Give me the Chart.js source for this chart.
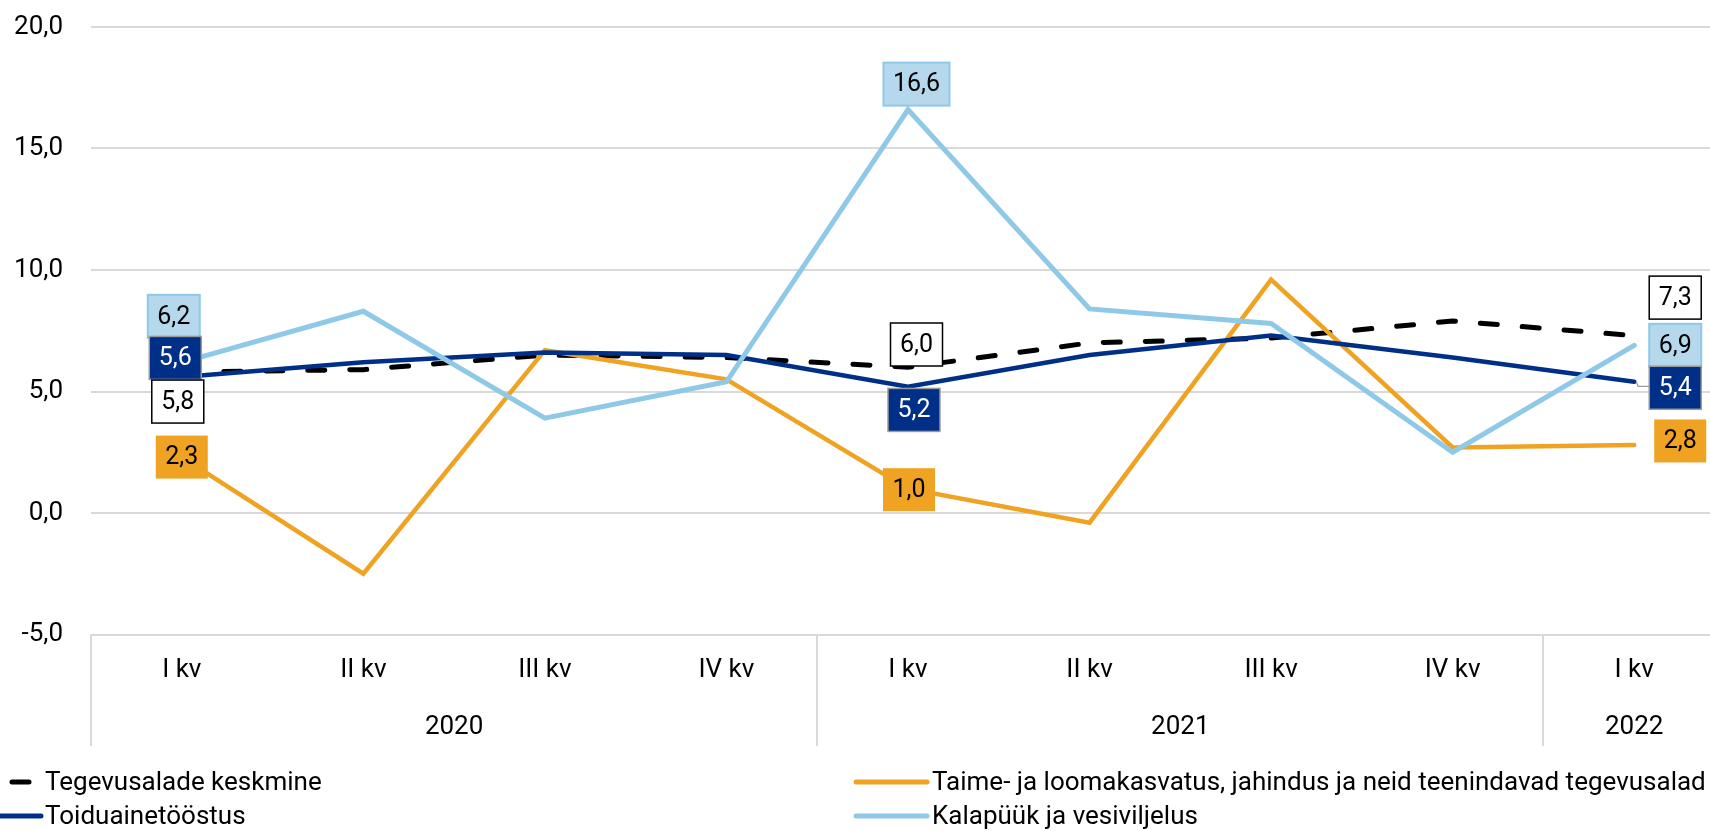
<!DOCTYPE html>
<html>
<head>
<meta charset="utf-8">
<script src="https://cdn.jsdelivr.net/npm/chart.js@4.4.1/dist/chart.umd.min.js"></script>
<style>
  html, body { margin: 0; padding: 0; background: #fff; overflow: hidden; }
  #wrap { width: 1710px; height: 831px; overflow: hidden; }
  canvas { display: block; }
</style>
</head>
<body>
<div id="wrap"><canvas id="chart" width="1725" height="831"></canvas></div>
<script>
// andmed
const quarters = ['I kv', 'II kv', 'III kv', 'IV kv', 'I kv', 'II kv', 'III kv', 'IV kv', 'I kv'];
const years = ['2020', '2021', '2022'];
const quartersPerYear = [4, 4, 1];

const keskmine = [5.8, 5.9, 6.5, 6.4, 6.0, 7.0, 7.2, 7.9, 7.3];
const taime = [2.3, -2.5, 6.7, 5.5, 1.0, -0.4, 9.6, 2.7, 2.8];
const toidu = [5.6, 6.2, 6.6, 6.5, 5.2, 6.5, 7.3, 6.4, 5.4];
const kala = [6.2, 8.3, 3.9, 5.4, 16.6, 8.4, 7.8, 2.5, 6.9];

const yTicks = [-5, 0, 5, 10, 15, 20];

const FONT = 'Roboto, "Noto Sans", sans-serif';
const colors = {
  kesk: '#000000',
  taime: '#F0A323',
  toidu: '#002F87',
  kala: '#8EC9E8'
};

// väärtuste sildid: millise rea, millise punkti juures ja nihe punktist
const labelSpots = [
  { key: 'kala', idx: 0, dx: -8, dy: -46 },
  { key: 'toidu', idx: 0, dx: -6.5, dy: -19 },
  { key: 'kesk', idx: 0, dx: -4, dy: 29.5 },
  { key: 'taime', idx: 0, dx: 0, dy: 0 },
  { key: 'kala', idx: 4, dx: 8.5, dy: -25.5 },
  { key: 'kesk', idx: 4, dx: 8.5, dy: -22.7 },
  { key: 'toidu', idx: 4, dx: 6, dy: 23.3 },
  { key: 'taime', idx: 4, dx: 1, dy: 1 },
  { key: 'kesk', idx: 8, dx: 41, dy: -38 },
  { key: 'kala', idx: 8, dx: 41, dy: 0 },
  { key: 'toidu', idx: 8, dx: 41, dy: 6, leader: true },
  { key: 'taime', idx: 8, dx: 46, dy: -4 }
];

const labelStyle = {
  kesk: { fill: '#ffffff', stroke: '#000000', lw: 1.5, text: '#000000' },
  taime: { fill: '#F0A323', stroke: null, lw: 0, text: '#000000' },
  toidu: { fill: '#002F87', stroke: '#9a9a9a', lw: 1.5, text: '#ffffff' },
  kala: { fill: '#B6D8EC', stroke: '#8EC9E8', lw: 2, text: '#000000' }
};

const legendSpots = [
  { key: 'kesk', x0: -30, x1: 41, tx: 45, y: 782 },
  { key: 'taime', x0: 856, x1: 927, tx: 932, y: 782 },
  { key: 'toidu', x0: -30, x1: 41, tx: 45, y: 816 },
  { key: 'kala', x0: 856, x1: 927, tx: 932, y: 816 }
];

function fmt(v) {
  return v.toFixed(1).replace('.', ',');
}

const extras = {
  id: 'extras',
  afterDatasetsDraw(chart) {
    const ctx = chart.ctx;
    const xs = chart.scales.x, ys = chart.scales.y;
    labelSpots.forEach(s => {
      const ds = chart.data.datasets.find(d => d.key === s.key);
      const v = ds.data[s.idx];
      const px = xs.getPixelForValue(s.idx);
      const py = ys.getPixelForValue(v);
      const st = labelStyle[s.key];
      const text = fmt(v);
      ctx.save();
      ctx.font = '25px ' + FONT;
      const w = Math.round(ctx.measureText(text).width + 19);
      const h = 43;
      const cx = px + s.dx, cy = py + s.dy;
      const left = cx - w / 2, top = cy - h / 2;
      if (s.leader) {
        ctx.strokeStyle = '#9a9a9a';
        ctx.lineWidth = 1.2;
        ctx.beginPath();
        ctx.moveTo(px + 2, py);
        ctx.lineTo(px + 4, py + 4.5);
        ctx.lineTo(left, py + 4.5);
        ctx.stroke();
      }
      ctx.fillStyle = st.fill;
      ctx.fillRect(left, top, w, h);
      if (st.stroke) {
        ctx.strokeStyle = st.stroke;
        ctx.lineWidth = st.lw;
        ctx.strokeRect(left, top, w, h);
      }
      ctx.fillStyle = st.text;
      ctx.textAlign = 'center';
      ctx.textBaseline = 'middle';
      ctx.fillText(text, cx, cy + 1);
      ctx.restore();
    });
  },
  afterDraw(chart) {
    const ctx = chart.ctx;
    const xs = chart.scales.x;
    const area = chart.chartArea;
    const half = (xs.getPixelForValue(1) - xs.getPixelForValue(0)) / 2;

    // aastate eraldusjooned ja nimed
    ctx.save();
    ctx.strokeStyle = '#d9d9d9';
    ctx.lineWidth = 2;
    let start = 0;
    const edges = [xs.getPixelForValue(0) - half];
    quartersPerYear.forEach(n => {
      start += n;
      edges.push(xs.getPixelForValue(start - 1) + half);
    });
    edges.slice(0, -1).forEach(ex => {
      ctx.beginPath();
      ctx.moveTo(Math.round(ex), area.bottom);
      ctx.lineTo(Math.round(ex), 746);
      ctx.stroke();
    });
    ctx.fillStyle = '#000';
    ctx.font = '26px ' + FONT;
    ctx.textAlign = 'center';
    ctx.textBaseline = 'middle';
    years.forEach((yr, i) => {
      ctx.fillText(yr, (edges[i] + edges[i + 1]) / 2, 727);
    });
    ctx.restore();

    // legend
    ctx.save();
    legendSpots.forEach(l => {
      const ds = chart.data.datasets.find(d => d.key === l.key);
      ctx.strokeStyle = ds.borderColor;
      ctx.lineWidth = 5;
      ctx.lineCap = 'round';
      ctx.setLineDash(ds.borderDash || []);
      ctx.beginPath();
      ctx.moveTo(l.x0, l.y);
      ctx.lineTo(l.x1, l.y);
      ctx.stroke();
      ctx.setLineDash([]);
      ctx.fillStyle = '#000';
      ctx.font = '26px ' + FONT;
      ctx.textAlign = 'left';
      ctx.textBaseline = 'middle';
      ctx.fillText(ds.label, l.tx, l.y + 1);
    });
    ctx.restore();
  }
};

new Chart(document.getElementById('chart'), {
  type: 'line',
  data: {
    labels: quarters,
    datasets: [
      {
        key: 'kesk', label: 'Tegevusalade keskmine', data: keskmine,
        borderColor: colors.kesk, borderWidth: 5, borderDash: [17, 25], borderCapStyle: 'round', order: 3
      },
      {
        key: 'taime', label: 'Taime- ja loomakasvatus, jahindus ja neid teenindavad tegevusalad', data: taime,
        borderColor: colors.taime, borderWidth: 4.5, borderCapStyle: 'round', order: 2
      },
      {
        key: 'toidu', label: 'Toiduainetööstus', data: toidu,
        borderColor: colors.toidu, borderWidth: 4.5, borderCapStyle: 'round', order: 1
      },
      {
        key: 'kala', label: 'Kalapüük ja vesiviljelus', data: kala,
        borderColor: colors.kala, borderWidth: 5, borderCapStyle: 'round', order: 0
      }
    ]
  },
  options: {
    responsive: false,
    animation: false,
    devicePixelRatio: 1,
    layout: { padding: { top: 27, left: 0, right: 0, bottom: 0 } },
    elements: { point: { radius: 0, hoverRadius: 0 }, line: { tension: 0 } },
    plugins: {
      legend: { display: false },
      tooltip: { enabled: false }
    },
    scales: {
      x: {
        offset: true,
        grid: { display: false, drawTicks: false },
        border: { display: false },
        ticks: {
          color: '#000',
          font: { family: FONT, size: 26 },
          padding: 20,
          maxRotation: 0,
          autoSkip: false
        },
        afterFit(scale) { scale.height = 196.5; }
      },
      y: {
        min: -5,
        max: 20,
        afterBuildTicks(scale) { scale.ticks = yTicks.map(v => ({ value: v })); },
        grid: { color: '#d9d9d9', lineWidth: 2, drawTicks: false },
        border: { display: false },
        ticks: {
          color: '#000',
          font: { family: FONT, size: 26 },
          padding: 28,
          callback: v => fmt(v)
        },
        afterFit(scale) {
          scale.width = 91;
          scale.paddingTop = 0;
          scale.paddingBottom = 0;
        }
      }
    }
  },
  plugins: [extras]
});
</script>
</body>
</html>
